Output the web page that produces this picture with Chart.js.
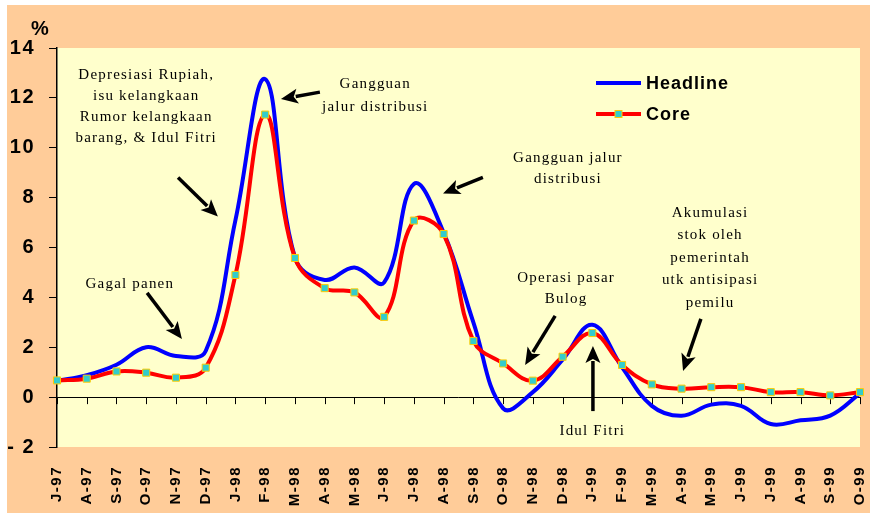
<!DOCTYPE html>
<html><head><meta charset="utf-8">
<script src="https://cdn.jsdelivr.net/npm/chart.js@4"></script>
<style>html,body{margin:0;padding:0;background:#fff;}canvas{display:block;}</style>
</head><body>
<canvas id="c" width="873" height="514"></canvas>
<script>
const months = ['J-97','A-97','S-97','O-97','N-97','D-97','J-98','F-98','M-98','A-98','M-98','J-98','J-98','A-98','S-98','O-98','N-98','D-98','J-99','F-99','M-99','A-99','M-99','J-99','J-99','A-99','S-99','O-99'];
const headline = [0.65,0.88,1.3,2.0,1.65,1.85,7.1,12.75,5.6,4.7,5.2,4.6,8.55,6.6,3.0,-0.45,0.2,1.5,2.9,1.2,-0.35,-0.75,-0.3,-0.35,-1.08,-0.93,-0.74,0.15];
const core = [0.67,0.74,1.03,0.98,0.78,1.18,4.9,11.33,5.58,4.37,4.2,3.22,7.08,6.54,2.25,1.35,0.66,1.62,2.57,1.29,0.51,0.34,0.4,0.4,0.2,0.2,0.07,0.2];
const yTicks = [-2,0,2,4,6,8,10,12,14];
const seriesNames = ['Headline','Core'];

// annotation texts, anchored in data coordinates (category index, value of first line)
const notes = [
  {lines:['Depresiasi Rupiah,','isu kelangkaan','Rumor kelangkaan','barang, & Idul Fitri'], x:3.0, y:12.9, lh:21},
  {lines:['Gagal panen'], x:2.45, y:4.55, lh:21},
  {lines:['Gangguan','jalur distribusi'], x:10.7, y:12.55, lh:23},
  {lines:['Gangguan jalur','distribusi'], x:17.18, y:9.57, lh:21},
  {lines:['Akumulasi','stok oleh','pemerintah','utk antisipasi','pemilu'], x:21.96, y:7.4, lh:22.5},
  {lines:['Operasi pasar','Bulog'], x:17.12, y:4.79, lh:21},
  {lines:['Idul Fitri'], x:18.0, y:-1.37, lh:21}
];
// arrows: tail (x1,y1) -> tip (x2,y2) in data coordinates
const arrows = [
  [4.07,8.81,5.41,7.24],
  [3.03,4.18,4.20,2.33],
  [8.84,12.23,7.53,11.95],
  [14.32,8.81,12.98,8.17],
  [21.65,3.14,21.05,1.05],
  [16.75,3.26,15.74,1.29],
  [18.02,-0.56,18.02,2.05]
];

function drawArrow(ctx,x1,y1,x2,y2){
  const ang=Math.atan2(y2-y1,x2-x1), hl=17, hw=7.5;
  const bx=x2-hl*Math.cos(ang), by=y2-hl*Math.sin(ang);
  ctx.lineWidth=3.5; ctx.strokeStyle='#000'; ctx.fillStyle='#000';
  ctx.beginPath(); ctx.moveTo(x1,y1); ctx.lineTo(bx+2*Math.cos(ang),by+2*Math.sin(ang)); ctx.stroke();
  ctx.beginPath(); ctx.moveTo(x2,y2);
  ctx.lineTo(bx+hw*Math.sin(ang), by-hw*Math.cos(ang));
  ctx.lineTo(bx+4*Math.cos(ang), by+4*Math.sin(ang));
  ctx.lineTo(bx-hw*Math.sin(ang), by+hw*Math.cos(ang));
  ctx.closePath(); ctx.fill();
}

const deco = {
  id:'deco',
  beforeDraw(chart){
    const {ctx, chartArea:a} = chart;
    ctx.save();
    ctx.fillStyle='#ffffff'; ctx.fillRect(0,0,chart.width,chart.height);
    ctx.fillStyle='#FFCC99'; ctx.fillRect(7,5,chart.width-7-3,chart.height-5-1);
    ctx.fillStyle='#FFFFCC'; ctx.fillRect(a.left,a.top,a.right-a.left,a.bottom-a.top);
    ctx.restore();
    ctx.letterSpacing='1.5px';
  },
  beforeDatasetsDraw(chart){
    const ctx=chart.ctx; ctx.letterSpacing='0px';
    const xs=chart.scales.x, ys=chart.scales.y;
    const y0=ys.getPixelForValue(0);
    ctx.save(); ctx.strokeStyle='#000'; ctx.lineWidth=1;
    months.forEach((m,i)=>{
      const x=Math.round(xs.getPixelForValue(i))+0.5;
      ctx.beginPath(); ctx.moveTo(x,y0); ctx.lineTo(x,y0+7); ctx.stroke();
    });
    ctx.restore();
  },
  afterDraw(chart){
    const ctx=chart.ctx, xs=chart.scales.x, ys=chart.scales.y;
    ctx.save();
    ctx.letterSpacing='1.2px';
    ctx.font='15px "Liberation Serif", "Times New Roman", serif';
    ctx.fillStyle='#000'; ctx.textAlign='center'; ctx.textBaseline='middle';
    notes.forEach(n=>{
      const x=xs.getPixelForValue(n.x), y=ys.getPixelForValue(n.y);
      n.lines.forEach((t,k)=>ctx.fillText(t,x,y+k*n.lh));
    });
    arrows.forEach(a=>drawArrow(ctx,xs.getPixelForValue(a[0]),ys.getPixelForValue(a[1]),xs.getPixelForValue(a[2]),ys.getPixelForValue(a[3])));
    ctx.letterSpacing='0px';
    ctx.font='bold 20px "Liberation Sans", Arial, sans-serif';
    ctx.textAlign='center';
    ctx.fillText('%',40,29);
    const ds=chart.data.datasets;
    const rows=[[ds[0],83],[ds[1],114]];
    ctx.letterSpacing='1px';
    ctx.font='bold 18px "Liberation Sans", Arial, sans-serif';
    ctx.textAlign='left';
    rows.forEach(([d,y])=>{
      ctx.strokeStyle=d.borderColor; ctx.lineWidth=4;
      ctx.beginPath(); ctx.moveTo(596,y); ctx.lineTo(641,y); ctx.stroke();
      if(d.pointRadius>0){
        ctx.fillStyle=d.pointBackgroundColor; ctx.strokeStyle=d.pointBorderColor; ctx.lineWidth=1;
        ctx.fillRect(615,y-3.5,7,7); ctx.strokeRect(615,y-3.5,7,7);
      }
      ctx.fillStyle='#000';
      ctx.fillText(d.label,646,y+1);
    });
    ctx.restore();
  }
};

new Chart(document.getElementById('c'),{
  type:'line',
  data:{labels:months, datasets:[
    {label:seriesNames[0], data:headline, borderColor:'#0000FF', borderWidth:4, pointRadius:0, tension:0.4, order:2, fill:false},
    {label:seriesNames[1], data:core, borderColor:'#FF0000', borderWidth:4, pointStyle:'rect', pointRadius:5,
     pointBackgroundColor:'#33CCCC', pointBorderColor:'#FFCC00', pointBorderWidth:1, tension:0.4, order:1, fill:false}
  ]},
  options:{
    responsive:false, animation:false, events:[],
    layout:{padding:{top:48,right:13,left:0,bottom:0}},
    plugins:{legend:{display:false}, tooltip:{enabled:false}},
    scales:{
      x:{type:'category', offset:false,
        grid:{display:true, drawOnChartArea:false, drawTicks:false, color:'transparent'},
        border:{display:false},
        ticks:{autoSkip:false, minRotation:90, maxRotation:90, padding:19, color:'#000',
          font:{family:'"Liberation Sans", Arial, sans-serif', weight:'bold', size:15}},
        afterFit(s){s.height=67; s.paddingLeft=0; s.paddingRight=0;}
      },
      y:{min:-2, max:14,
        afterBuildTicks(s){s.ticks=yTicks.map(v=>({value:v}));},
        grid:{color:c=>(c.tick && c.tick.value===0)?'#000':'transparent', tickColor:'#000', tickLength:8, lineWidth:1},
        border:{display:true, color:'#000', width:1.5},
        ticks:{padding:14, color:'#000', font:{family:'"Liberation Sans", Arial, sans-serif', weight:'bold', size:20},
          callback:v=> v<0 ? '- '+Math.abs(v) : String(v)},
        afterFit(s){s.width=57; s.paddingTop=0; s.paddingBottom=0;}
      }
    }
  },
  plugins:[deco]
});
</script>
</body></html>
